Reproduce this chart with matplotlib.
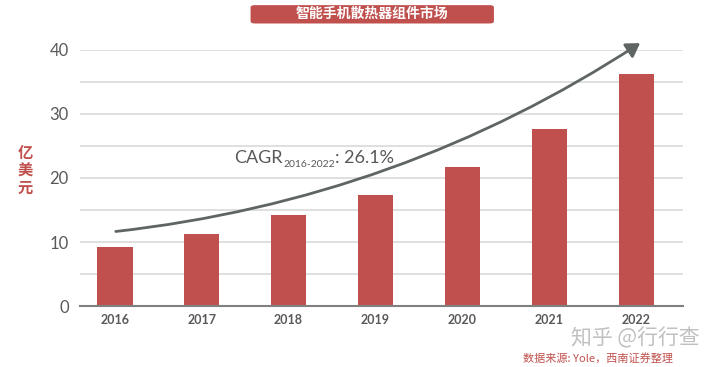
import matplotlib
matplotlib.use('Agg')
import matplotlib.pyplot as plt
from matplotlib.patches import FancyArrowPatch, FancyBboxPatch
from matplotlib.transforms import offset_copy

plt.rcParams['font.family'] = ['Lato', 'Noto Sans CJK SC', 'DejaVu Sans']

years = ['2016', '2017', '2018', '2019', '2020', '2021', '2022']
market = [9.2, 11.2, 14.2, 17.3, 21.7, 27.7, 36.2]
cagr_parts = ['CAGR', '2016-2022', ': 26.1%']
trend_start = (-0.02, 11.6)
trend_end = (6.07, 41.3)

red = '#c0504d'
gray = '#595959'

fig = plt.figure(figsize=(7.2, 3.67), dpi=100)
ax = fig.add_axes([0.111, 0.166, 0.838, 0.698])

x = range(len(years))
ax.bar(x, market, width=0.41, color=red, zorder=3)

ax.set_xlim(-0.4, 6.54)
ax.set_ylim(0, 40)
ax.set_yticks([0, 10, 20, 30, 40])
ax.set_yticks(range(0, 41, 5), minor=True)
ax.grid(axis='y', which='both', color='#d9d9d9', linewidth=1.2, zorder=0)
ax.set_xticks(list(x))
ax.set_xticklabels(years, fontsize=9, color=gray, fontweight='bold')
ax.tick_params(axis='y', which='both', length=0, labelsize=12, labelcolor=gray, pad=8)
ax.tick_params(axis='x', length=0, pad=6)
for s in ['top', 'right', 'left']:
    ax.spines[s].set_visible(False)
ax.spines['bottom'].set_color('#808080')
ax.spines['bottom'].set_linewidth(1.5)
ax.spines['bottom'].set_zorder(4)

arrow = FancyArrowPatch(trend_start, trend_end, connectionstyle='arc3,rad=0.12',
                        arrowstyle='-|>,head_length=8,head_width=5', color='#5f6563',
                        linewidth=2, clip_on=False, zorder=5)
ax.add_patch(arrow)

# CAGR label with small subscript, pieced together
r = fig.canvas.get_renderer()
t1 = ax.text(1.37, 22.4, cagr_parts[0], fontsize=13, color=gray, ha='left', va='baseline')
w1 = t1.get_window_extent(r).width * 72 / fig.dpi
t2 = ax.text(1.37, 22.4, cagr_parts[1], fontsize=7.5, color=gray, ha='left', va='baseline',
             transform=offset_copy(ax.transData, fig=fig, x=w1 + 0.5, y=-3, units='points'))
w2 = t2.get_window_extent(r).width * 72 / fig.dpi
ax.text(1.37, 22.4, cagr_parts[2], fontsize=13, color=gray, ha='left', va='baseline',
        transform=offset_copy(ax.transData, fig=fig, x=w1 + w2 + 1, y=0, units='points'))

# title box
fig.patches.append(FancyBboxPatch((0.352, 0.94), 0.33, 0.042, boxstyle='round,pad=0.004,rounding_size=0.006',
                                  transform=fig.transFigure, facecolor=red, edgecolor='none'))
fig.text(0.517, 0.961, '智能手机散热器组件市场', color='white', fontsize=10, fontweight='bold',
         ha='center', va='center', family=['Noto Sans CJK SC'])

fig.text(0.035, 0.535, '亿\n美\n元', color=red, fontsize=11, fontweight='bold', ha='center', va='center',
         linespacing=1.1, family=['Noto Sans CJK SC'])

fig.text(0.972, 0.078, '知乎 @行行查', color='#c0c0c0', fontsize=15, ha='right', va='center',
         family=['Noto Sans CJK SC', 'DejaVu Sans'])
fig.text(0.935, 0.025, '数据来源: Yole，西南证券整理', color=red, fontsize=8, style='italic',
         ha='right', va='center', family=['Noto Sans CJK SC', 'DejaVu Sans'])

fig.savefig('out.png', dpi=100)
